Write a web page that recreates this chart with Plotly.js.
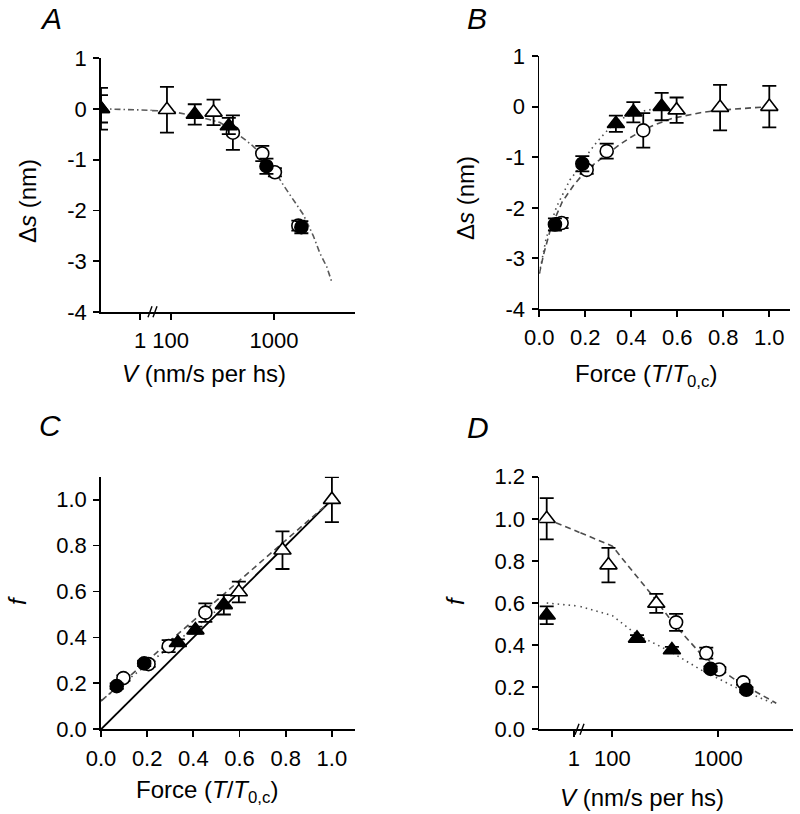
<!DOCTYPE html>
<html>
<head>
<meta charset="utf-8">
<script src="https://cdn.plot.ly/plotly-3.0.1.min.js"></script>
<style>html,body{margin:0;padding:0;background:#fff;}#chart{width:800px;height:814px;}</style>
</head>
<body>
<div id="chart"></div>
<script>
// ---------- data ----------
// open triangles
const otForce = [0.597, 0.786, 1.0];
const otV     = [260, 92, 0];
const otDs    = [-0.07, -0.02, 0.0];
const otDsErr = [0.25, 0.45, 0.41];
const otF     = [0.598, 0.78, 1.0];
const otFErr  = [0.045, 0.082, 0.098];
// filled triangles
const ftForce = [0.333, 0.409, 0.532];
const ftV     = [365, 171, 0];
const ftDs    = [-0.34, -0.11, 0.0];
const ftDsErr = [0.16, 0.2, 0.27];
const ftF     = [0.377, 0.432, 0.542];
const ftFErr  = [0.015, 0.015, 0.042];
// open circles
const ocForce = [0.097, 0.206, 0.293, 0.452];
const ocV     = [1720, 1020, 770, 400];
const ocDs    = [-2.3, -1.25, -0.88, -0.47];
const ocDsErr = [0.1, 0.08, 0.15, 0.34];
const ocF     = [0.223, 0.284, 0.362, 0.508];
const ocFErr  = [0.012, 0.012, 0.026, 0.04];
// filled circles
const fcForce = [0.068, 0.187];
const fcV     = [1840, 845];
const fcDs    = [-2.33, -1.13];
const fcDsErr = [0.12, 0.15];
const fcF     = [0.188, 0.287];
const fcFErr  = [0.012, 0.012];

// fitted / model curves
const fitA_V  = [0, 1.3, 66, 100, 154, 200, 300, 400, 520, 630, 800, 1000, 1230, 1500, 1920, 2400, 2790, 3240, 3600];
const fitA_ds = [0, -0.03, -0.035, -0.05, -0.12, -0.17, -0.27, -0.43, -0.6, -0.74, -0.95, -1.2, -1.5, -1.75, -2.08, -2.5, -2.85, -3.11, -3.39];
const fitB_dashF  = [0, 0.02, 0.05, 0.1, 0.15, 0.206, 0.3, 0.35, 0.4, 0.45, 0.5, 0.58, 0.7, 0.786, 1.0];
const fitB_dashDs = [-3.3, -2.9, -2.4, -1.88, -1.55, -1.25, -0.92, -0.75, -0.6, -0.47, -0.36, -0.23, -0.12, -0.07, 0];
const fitB_dotF  = [0, 0.03, 0.075, 0.133, 0.177, 0.2, 0.25, 0.3, 0.351, 0.438, 0.53];
const fitB_dotDs = [-3.3, -2.6, -1.98, -1.45, -1.19, -1.0, -0.7, -0.45, -0.25, -0.1, -0.02];
const fitC_solidX = [0, 1.0], fitC_solidY = [0, 1.0];
const fitC_dashX  = [0, 0.985], fitC_dashY = [0.123, 0.985];
const fitC_dotX   = [0, 0.53],  fitC_dotY  = [0.125, 0.54];
const fitD_dashV = [0, 1.2, 50, 100, 150, 244, 376, 676, 1000, 1500, 2140, 3525];
const fitD_dashF = [1.0, 0.935, 0.934, 0.87, 0.76, 0.63, 0.504, 0.361, 0.29, 0.23, 0.185, 0.124];
const fitD_dotV  = [0, 1.2, 50, 100, 170, 350, 700, 1450, 3400];
const fitD_dotF  = [0.60, 0.585, 0.583, 0.54, 0.45, 0.37, 0.28, 0.2, 0.12];

// tick labels
const dsTickVals = [-4, -3, -2, -1, 0, 1];
const dsTickText = ['-4', '-3', '-2', '-1', '0', '1'];
const forceTickVals = [0, 0.2, 0.4, 0.6, 0.8, 1.0];
const forceTickText = ['0.0', '0.2', '0.4', '0.6', '0.8', '1.0'];
const fTickValsC = [0, 0.2, 0.4, 0.6, 0.8, 1.0];
const fTickTextC = ['0.0', '0.2', '0.4', '0.6', '0.8', '1.0'];
const fTickValsD = [0, 0.2, 0.4, 0.6, 0.8, 1.0, 1.2];
const fTickTextD = ['0.0', '0.2', '0.4', '0.6', '0.8', '1.0', '1.2'];
const vBreakTickVals = [1], vBreakTickText = ['1'];
const vLogTickVals = [100, 1000], vLogTickText = ['100', '1000'];

// ---------- styles ----------
const FONT = 'Arial, "Liberation Sans", Helvetica, sans-serif';
const series = [
  {name:'ot', force:otForce, V:otV, ds:otDs, dsErr:otDsErr, f:otF, fErr:otFErr, symbol:'triangle-up', fill:'white', size:15},
  {name:'oc', force:ocForce, V:ocV, ds:ocDs, dsErr:ocDsErr, f:ocF, fErr:ocFErr, symbol:'circle', fill:'white', size:13},
  {name:'ft', force:ftForce, V:ftV, ds:ftDs, dsErr:ftDsErr, f:ftF, fErr:ftFErr, symbol:'triangle-up', fill:'black', size:15},
  {name:'fc', force:fcForce, V:fcV, ds:fcDs, dsErr:fcDsErr, f:fcF, fErr:fcFErr, symbol:'circle', fill:'black', size:13}
];

function pts(s, xs, ys, es, xa, ya) {
  return {
    type:'scatter', mode:'markers', x:xs, y:ys, xaxis:xa, yaxis:ya, showlegend:false,
    marker:{symbol:s.symbol, size:s.size, color:s.fill, line:{color:'black', width:1.6}},
    error_y:{type:'data', array:es, visible:true, color:'black', thickness:1.8, width:7}
  };
}
function line(xs, ys, xa, ya, dash, color, w) {
  return {type:'scatter', mode:'lines', x:xs, y:ys, xaxis:xa, yaxis:ya, showlegend:false,
    line:{color:color, width:w || 1.6, dash:dash}, hoverinfo:'skip'};
}
function split(vs, ys, lim) {
  const a = {x:[], y:[]}, b = {x:[], y:[]};
  vs.forEach((v, i) => { if (v <= lim) { a.x.push(v); a.y.push(ys[i]); } else { b.x.push(v); b.y.push(ys[i]); } });
  return [a, b];
}
function pick(vs, arr, iso) { return arr.filter((_, i) => iso ? vs[i] === 0 : vs[i] !== 0); }

const traces = [];
const GREY = '#4d4d4d';
// ---- fits ----
let [aL, aR] = split(fitA_V, fitA_ds, 2);
traces.push(line(aL.x, aL.y, 'x', 'y', '6px,3px,1.5px,3px', '#5a5a5a'));
traces.push(line(aR.x, aR.y, 'x2', 'y', '6px,3px,1.5px,3px', '#5a5a5a'));
traces.push(line(fitB_dashF, fitB_dashDs, 'x3', 'y2', '6px,4px', GREY));
traces.push(line(fitB_dotF, fitB_dotDs, 'x3', 'y2', '1.5px,4px', GREY));
traces.push(line(fitC_solidX, fitC_solidY, 'x4', 'y3', 'solid', 'black', 1.8));
traces.push(line(fitC_dashX, fitC_dashY, 'x4', 'y3', '6px,4px', GREY));
traces.push(line(fitC_dotX, fitC_dotY, 'x4', 'y3', '1.5px,4px', GREY));
let [dL, dR] = split(fitD_dashV, fitD_dashF, 2);
traces.push(line(dL.x, dL.y, 'x5', 'y4', '6px,4px', GREY));
traces.push(line(dR.x, dR.y, 'x6', 'y4', '6px,4px', GREY));
let [oL, oR] = split(fitD_dotV, fitD_dotF, 2);
traces.push(line(oL.x, oL.y, 'x5', 'y4', '1.5px,4px', GREY));
traces.push(line(oR.x, oR.y, 'x6', 'y4', '1.5px,4px', GREY));

// ---- points ----
series.forEach(s => {
  const isoV = pick(s.V, s.V, true);
  // A : ds vs V (broken axis)
  if (isoV.length) traces.push(pts(s, isoV, pick(s.V, s.ds, true), pick(s.V, s.dsErr, true), 'x', 'y'));
  traces.push(pts(s, pick(s.V, s.V, false), pick(s.V, s.ds, false), pick(s.V, s.dsErr, false), 'x2', 'y'));
  // B : ds vs force
  traces.push(pts(s, s.force, s.ds, s.dsErr, 'x3', 'y2'));
  // C : f vs force
  traces.push(pts(s, s.force, s.f, s.fErr, 'x4', 'y3'));
  // D : f vs V (broken axis)
  if (isoV.length) traces.push(pts(s, isoV, pick(s.V, s.f, true), pick(s.V, s.fErr, true), 'x5', 'y4'));
  traces.push(pts(s, pick(s.V, s.V, false), pick(s.V, s.f, false), pick(s.V, s.fErr, false), 'x6', 'y4'));
});

// ---------- layout ----------
const W = 800, H = 814;
const px = v => v / W, py = v => 1 - v / H;
function axis(extra) {
  return Object.assign({
    showline:true, linecolor:'black', linewidth:1.8, mirror:false,
    ticks:'outside', ticklen:6, tickwidth:1.8, tickcolor:'black',
    showgrid:false, zeroline:false, tickmode:'array',
    tickfont:{family:FONT, size:22, color:'black'}, ticklabelstandoff:2, fixedrange:true
  }, extra);
}
const layout = {
  width:W, height:H, margin:{l:0, r:0, t:0, b:0}, paper_bgcolor:'white', plot_bgcolor:'rgba(0,0,0,0)',
  font:{family:FONT, color:'black'}, showlegend:false, hovermode:false,
  // A
  xaxis:  axis({domain:[px(101), px(152)], range:[0, 1.3077], anchor:'y', tickvals:vBreakTickVals, ticktext:vBreakTickText}),
  xaxis2: axis({domain:[px(152), px(355)], type:'log', range:[1.819, 3.784], anchor:'y', tickvals:vLogTickVals, ticktext:vLogTickText}),
  yaxis:  axis({domain:[py(312), py(58)], range:[-4, 1], anchor:'x', tickvals:dsTickVals, ticktext:dsTickText}),
  // B
  xaxis3: axis({domain:[px(539.3), px(790)], range:[0, 1.09], anchor:'y2', tickvals:forceTickVals, ticktext:forceTickText}),
  yaxis2: axis({domain:[py(309), py(56)], range:[-4, 1], anchor:'x3', tickvals:dsTickVals, ticktext:dsTickText}),
  // C
  xaxis4: axis({domain:[px(101), px(355)], range:[0, 1.1], anchor:'y3', tickvals:forceTickVals, ticktext:forceTickText}),
  yaxis3: axis({domain:[py(729.3), py(476.7)], range:[0, 1.1], anchor:'x4', tickvals:fTickValsC, ticktext:fTickTextC}),
  // D
  xaxis5: axis({domain:[px(539.3), px(580)], range:[-0.271, 1.22], anchor:'y4', tickvals:vBreakTickVals, ticktext:vBreakTickText}),
  xaxis6: axis({domain:[px(580), px(793.3)], type:'log', range:[1.695, 3.708], anchor:'y4', tickvals:vLogTickVals, ticktext:vLogTickText}),
  yaxis4: axis({domain:[py(729.3), py(476.7)], range:[0, 1.2], anchor:'x5', tickvals:fTickValsD, ticktext:fTickTextD}),
  annotations:[],
  shapes:[]
};
function ann(text, x, y, size, angle) {
  layout.annotations.push({text:text, x:px(x), y:py(y), xref:'paper', yref:'paper', xanchor:'center', yanchor:'middle',
    showarrow:false, textangle:angle || 0, font:{family:FONT, size:size, color:'black'}});
}
// panel letters
ann('<i>A</i>', 51, 18, 30);
ann('<i>B</i>', 477, 18, 30);
ann('<i>C</i>', 50, 425, 30);
ann('<i>D</i>', 478, 427, 30);
// axis titles
const vTitle = '<i>V</i> (nm/s per hs)';
const forceTitle = 'Force (<i>T</i>/<i>T</i><sub>0,c</sub>)';
const dsTitle = 'Δ<i>s</i> (nm)';
ann(dsTitle, 28, 201, 24, -90);
ann(dsTitle, 466, 198, 24, -90);
ann('<i>f</i>', 17, 601, 24, -90);
ann('<i>f</i>', 455, 601, 24, -90);
ann(vTitle, 204, 373, 24);
ann(forceTitle, 646, 375, 24);
ann(forceTitle, 207, 791, 24);
ann(vTitle, 642, 797, 24);
// axis-break marks
function brk(x, y) {
  [0, 5].forEach(d => layout.shapes.push({type:'line', xref:'paper', yref:'paper',
    x0:px(x + d), y0:py(y + 5.5), x1:px(x + d + 4), y1:py(y - 5.5), line:{color:'black', width:1.4}}));
}
brk(148, 311.7);
brk(575, 729.3);

Plotly.newPlot('chart', traces, layout, {staticPlot:true, displayModeBar:false});
</script>
</body>
</html>
